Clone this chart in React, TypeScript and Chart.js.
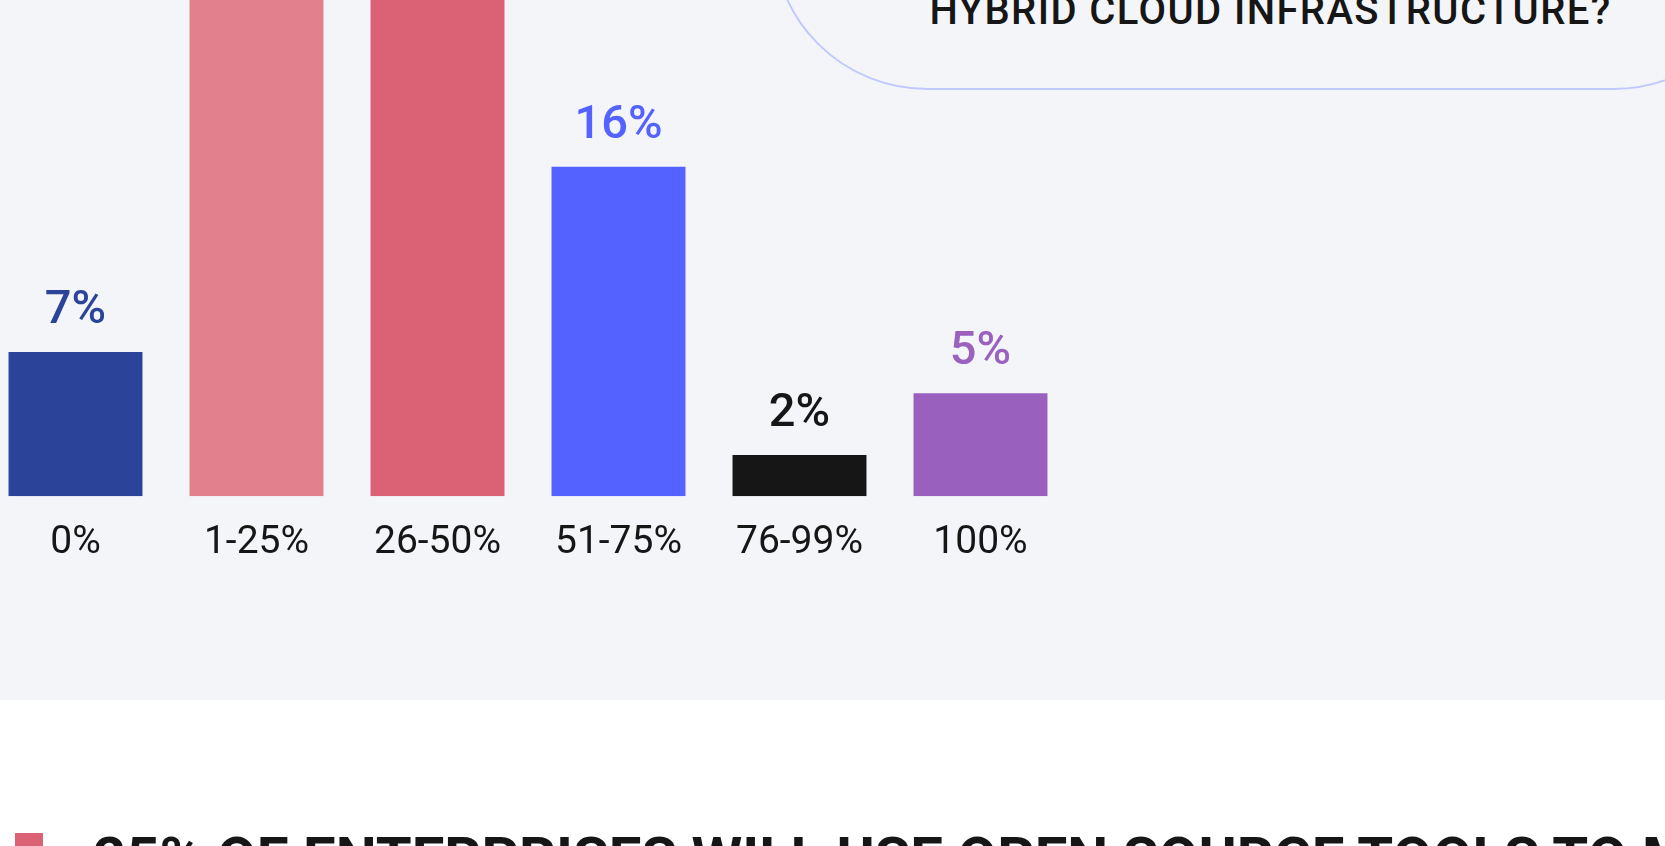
import React, { useEffect, useRef } from "react";
import { Chart, registerables } from "chart.js";

Chart.register(...registerables);

const categories = ["0%", "1-25%", "26-50%", "51-75%", "76-99%", "100%"];
const shares = [7, 36, 34, 16, 2, 5];
const barColors = ["#2B4499", "#E2808E", "#DB6175", "#5462FF", "#161616", "#9A60BD"];
const labelColors = ["#2B4499", "#E2808E", "#DB6175", "#5462FF", "#161616", "#9B61BF"];
const questionLine = "HYBRID CLOUD INFRASTRUCTURE?";
const nextHeading = "25% OF ENTERPRISES WILL USE OPEN SOURCE TOOLS TO MANAGE";
const yMax = 24.1;

const FONT = "Roboto, 'Noto Sans', sans-serif";

const valueLabelPlugin = {
  id: "valueLabels",
  afterDatasetsDraw(chart: any) {
    const ctx = chart.ctx;
    const meta = chart.getDatasetMeta(0);
    ctx.save();
    ctx.font = `500 47px ${FONT}`;
    ctx.textAlign = "center";
    ctx.textBaseline = "alphabetic";
    meta.data.forEach((bar: any, i: number) => {
      ctx.fillStyle = labelColors[i];
      ctx.fillText(`${shares[i]}%`, bar.x, bar.y - 29);
    });
    ctx.restore();
  },
};

function BarChart() {
  const ref = useRef<HTMLCanvasElement | null>(null);
  useEffect(() => {
    if (!ref.current) return;
    const chart = new Chart(ref.current, {
      type: "bar",
      data: {
        labels: categories,
        datasets: [
          {
            data: shares,
            backgroundColor: barColors,
            borderWidth: 0,
            barPercentage: 0.74,
            categoryPercentage: 1,
          },
        ],
      },
      options: {
        responsive: false,
        animation: false,
        devicePixelRatio: 1,
        layout: { padding: 0 },
        plugins: {
          legend: { display: false },
          tooltip: { enabled: false },
          title: { display: false },
        },
        scales: {
          y: { display: false, min: 0, max: yMax },
          x: {
            grid: { display: false, drawTicks: false },
            border: { display: false },
            ticks: {
              padding: 24,
              color: "#161616",
              font: { family: FONT, size: 39, weight: "400" },
            },
          },
        },
      },
      plugins: [valueLabelPlugin],
    });
    return () => chart.destroy();
  }, []);
  return (
    <canvas
      ref={ref}
      width={1086}
      height={591}
      style={{ position: "absolute", left: -15, top: 0, width: 1086, height: 591 }}
    />
  );
}

export default function App() {
  return (
    <div
      style={{
        position: "fixed",
        left: 0,
        top: 0,
        width: 1665,
        height: 846,
        overflow: "hidden",
        background: "#FFFFFF",
        fontFamily: FONT,
      }}
    >
      <div style={{ position: "absolute", left: 0, top: 0, width: 1665, height: 700, background: "#F4F5F9" }} />
      <div
        style={{
          position: "absolute",
          left: 772,
          top: -700,
          width: 997,
          height: 790,
          boxSizing: "border-box",
          border: "2.5px solid #C0C9FF",
          borderRadius: 155,
        }}
      />
      <div
        style={{
          position: "absolute",
          left: 772,
          width: 997,
          top: -9,
          textAlign: "center",
          fontSize: 40,
          lineHeight: "40px",
          fontWeight: 500,
          letterSpacing: 1.4,
          color: "#161616",
          whiteSpace: "nowrap",
        }}
      >
        {questionLine}
      </div>
      <BarChart />
      <div style={{ position: "absolute", left: 15, top: 833, width: 28, height: 40, background: "#DB6175" }} />
      <div
        style={{
          position: "absolute",
          left: 93,
          top: 829,
          fontSize: 58,
          lineHeight: "58px",
          fontWeight: 700,
          color: "#161616",
          whiteSpace: "nowrap",
        }}
      >
        {nextHeading}
      </div>
    </div>
  );
}
